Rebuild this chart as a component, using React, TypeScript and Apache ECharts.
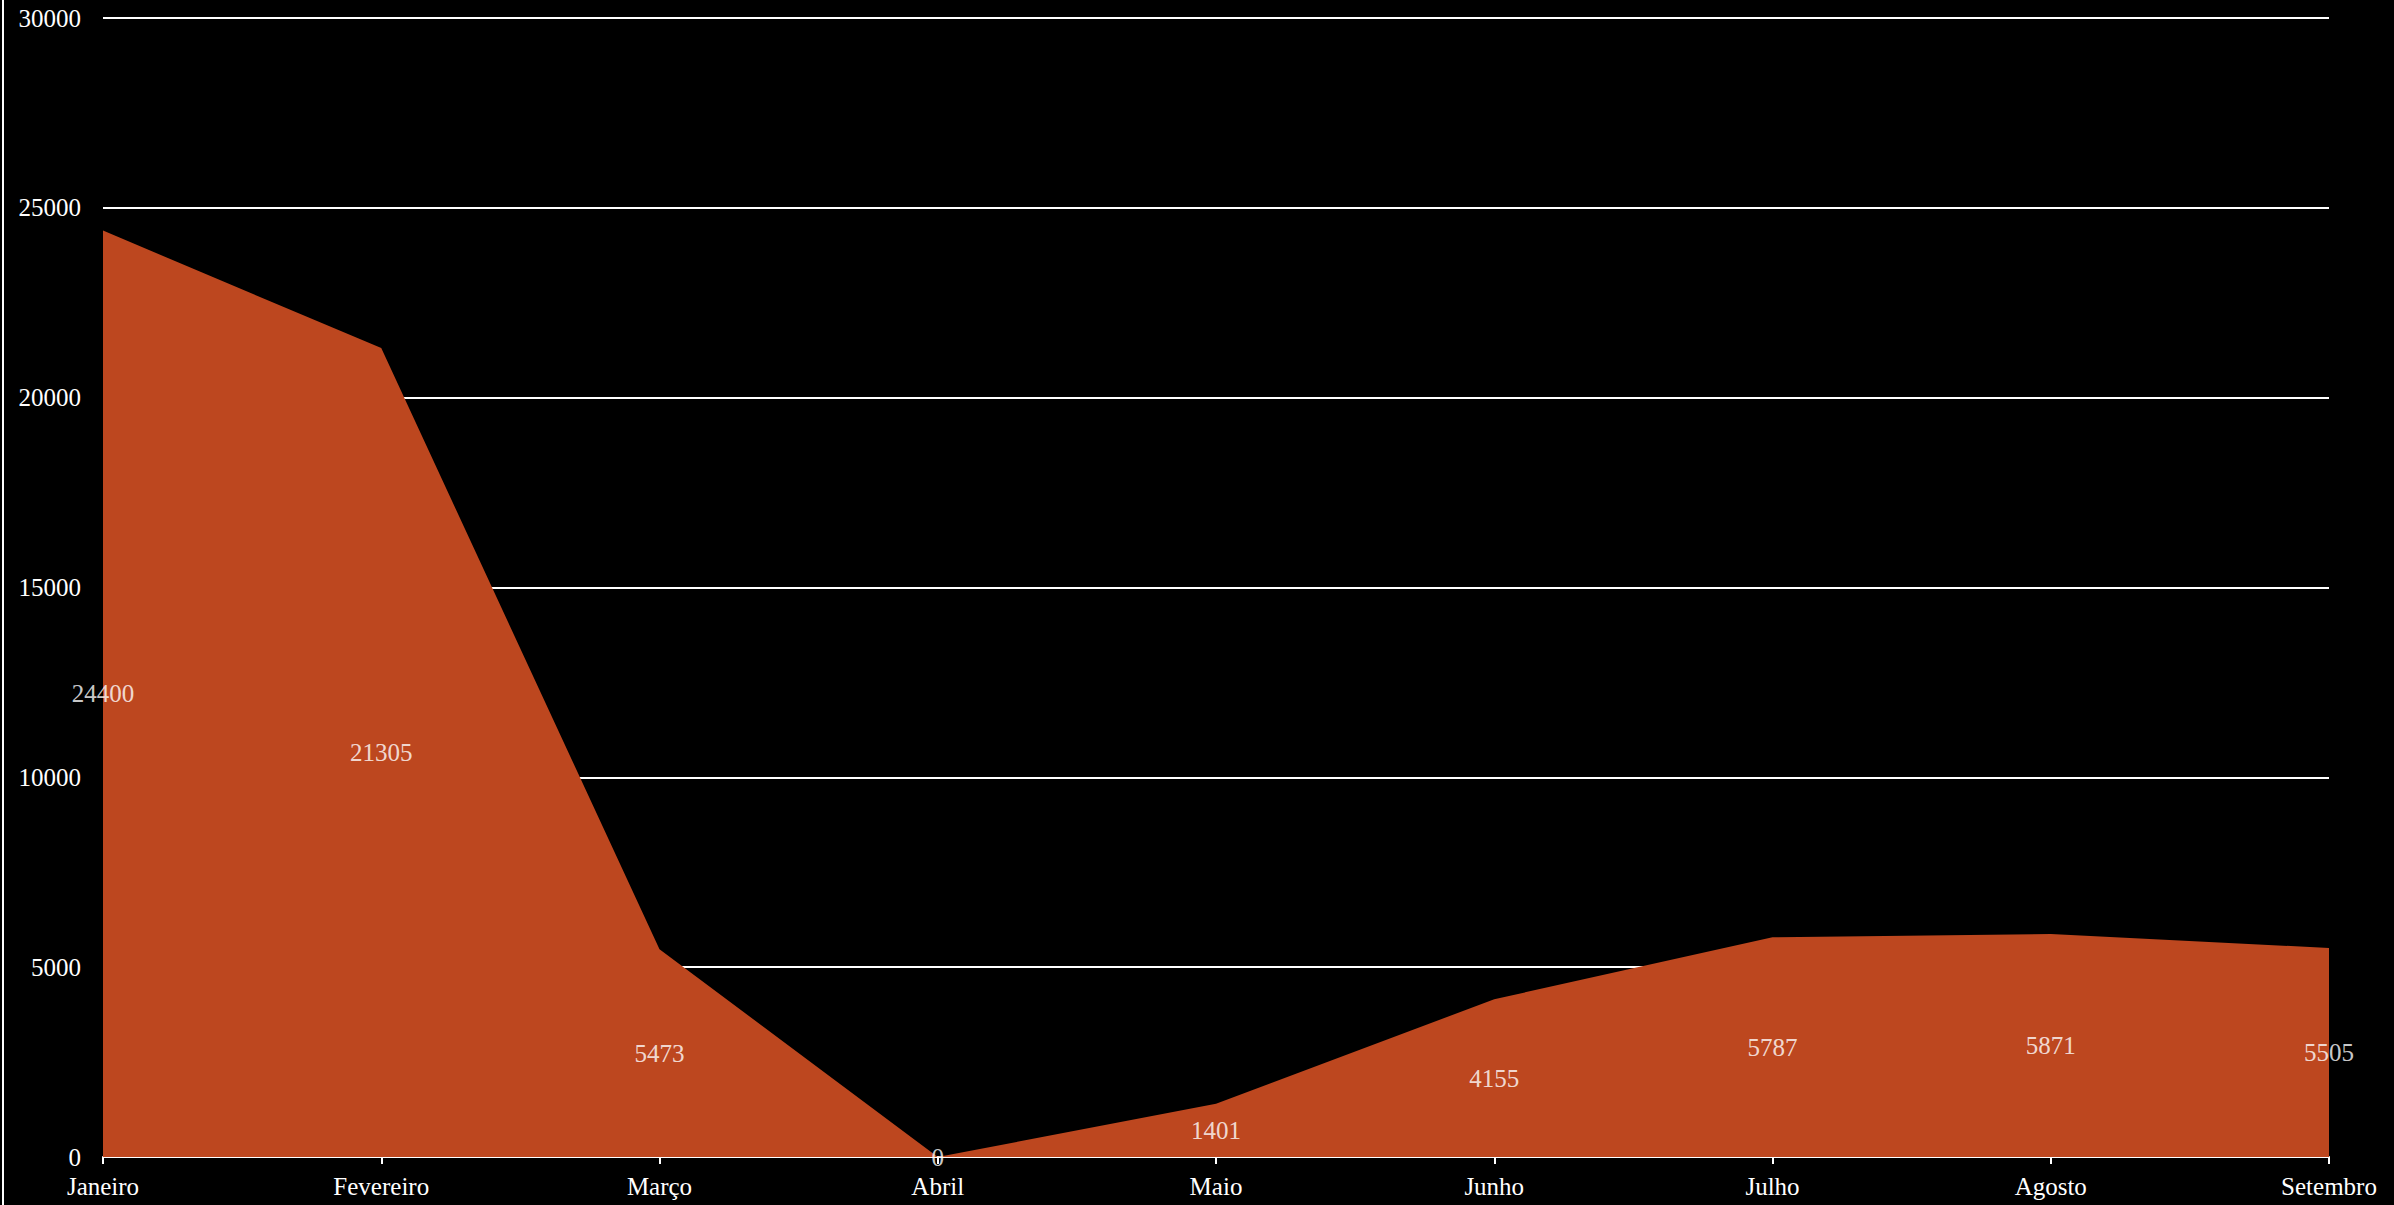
import React, { useEffect, useRef } from "react";
import * as echarts from "echarts";

const months = ["Janeiro", "Fevereiro", "Março", "Abril", "Maio", "Junho", "Julho", "Agosto", "Setembro"];
const values = [24400, 21305, 5473, 0, 1401, 4155, 5787, 5871, 5505];
const yMax = 30000;
const yStep = 5000;

const FONT = "'Liberation Serif', 'DejaVu Serif', serif";
const AREA = "#BD471F";

export default function App() {
  const ref = useRef<HTMLDivElement>(null);
  useEffect(() => {
    if (!ref.current) return;
    const chart = echarts.init(ref.current, undefined, { renderer: "svg" });
    chart.setOption({
      animation: false,
      backgroundColor: "#000000",
      grid: {
        left: 103,
        right: 65,
        top: 18,
        bottom: 48,
        containLabel: false,
        outerBoundsMode: "none",
      },
      graphic: [
        {
          type: "rect",
          shape: { x: 2, y: 0, width: 2, height: 1205 },
          style: { fill: "#ffffff" },
          silent: true,
        },
      ],
      xAxis: {
        type: "category",
        data: months,
        boundaryGap: false,
        axisLine: { show: true, lineStyle: { color: "#ffffff", width: 2 } },
        axisTick: { show: true, length: 7, lineStyle: { color: "#ffffff", width: 2 } },
        axisLabel: { color: "#ffffff", fontFamily: FONT, fontSize: 25, margin: 17 },
        splitLine: { show: false },
      },
      yAxis: {
        type: "value",
        min: 0,
        max: yMax,
        interval: yStep,
        axisLine: { show: false },
        axisTick: { show: false },
        axisLabel: {
          color: "#ffffff",
          fontFamily: FONT,
          fontSize: 25,
          margin: 22,
          formatter: (v: number) => String(v),
        },
        splitLine: { show: true, lineStyle: { color: "#ffffff", width: 2 } },
      },
      series: [
        {
          type: "line",
          data: values,
          symbol: "none",
          lineStyle: { width: 0, color: AREA },
          itemStyle: { color: AREA },
          areaStyle: { color: AREA, opacity: 1 },
          z: 3,
        },
        {
          type: "scatter",
          data: values.map((v, i) => [i, v / 2]),
          symbolSize: 0,
          silent: true,
          z: 5,
          label: {
            show: true,
            position: "inside",
            color: "#ffffff",
            fontFamily: FONT,
            fontSize: 25,
            formatter: (p: any) => String(values[p.dataIndex]),
          },
        },
      ],
    });
    return () => chart.dispose();
  }, []);
  return (
    <div
      ref={ref}
      style={{ position: "fixed", left: 0, top: 0, width: 2394, height: 1205, background: "#000" }}
    />
  );
}
